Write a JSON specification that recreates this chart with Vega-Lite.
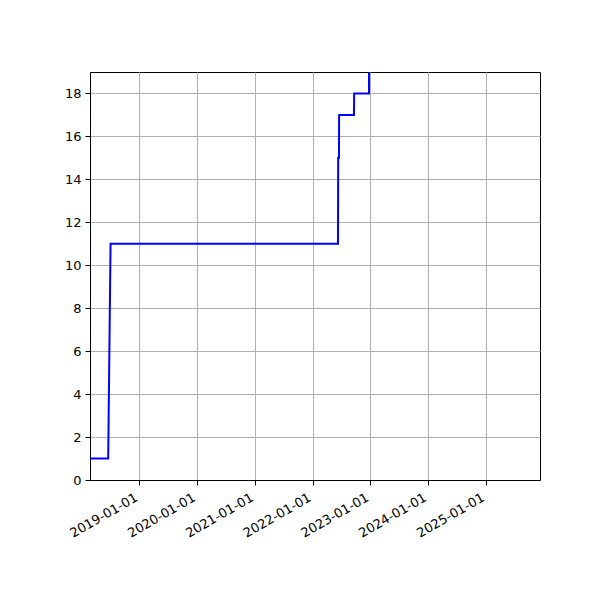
{
  "$schema": "https://vega.github.io/schema/vega-lite/v6.json",
  "description": "Step-like cumulative count over time",
  "autosize": {"type": "none"},
  "padding": {"left": 90, "top": 72, "right": 60, "bottom": 120},
  "width": 450,
  "height": 408,
  "background": "white",
  "view": {"stroke": "black", "strokeWidth": 1},
  "config": {
    "font": "DejaVu Sans",
    "axis": {
      "labelFont": "DejaVu Sans",
      "labelFontSize": 13,
      "labelColor": "black",
      "domainColor": "black",
      "tickColor": "black",
      "tickSize": 5,
      "labelPadding": 4,
      "gridColor": "#b0b0b0",
      "gridWidth": 1,
      "labelOverlap": false,
      "labelFlush": false,
      "title": null
    }
  },
  "data": {
    "values": [
      {"date": "2018-02-24", "value": 1},
      {"date": "2018-06-19", "value": 1},
      {"date": "2018-07-04", "value": 11},
      {"date": "2022-06-11", "value": 11},
      {"date": "2022-06-12", "value": 15},
      {"date": "2022-06-17", "value": 15},
      {"date": "2022-06-18", "value": 17},
      {"date": "2022-09-20", "value": 17},
      {"date": "2022-09-21", "value": 18},
      {"date": "2022-12-24", "value": 18},
      {"date": "2022-12-25", "value": 25}
    ]
  },
  "mark": {"type": "line", "color": "blue", "strokeWidth": 2, "clip": true},
  "encoding": {
    "x": {
      "field": "date",
      "type": "temporal",
      "scale": {
        "type": "utc",
        "domain": [
          {"year": 2018, "month": 2, "date": 24, "utc": true},
          {"year": 2025, "month": 12, "date": 9, "utc": true}
        ]
      },
      "axis": {
        "values": [
          {"year": 2019, "month": 1, "date": 1, "utc": true},
          {"year": 2020, "month": 1, "date": 1, "utc": true},
          {"year": 2021, "month": 1, "date": 1, "utc": true},
          {"year": 2022, "month": 1, "date": 1, "utc": true},
          {"year": 2023, "month": 1, "date": 1, "utc": true},
          {"year": 2024, "month": 1, "date": 1, "utc": true},
          {"year": 2025, "month": 1, "date": 1, "utc": true}
        ],
        "labelExpr": "utcFormat(datum.value, '%Y-%m-%d')",
        "labelAngle": -30,
        "labelAlign": "right",
        "labelBaseline": "top",
        "labelOffset": -6,
        "labelPadding": 6,
        "grid": true
      }
    },
    "y": {
      "field": "value",
      "type": "quantitative",
      "scale": {"domain": [0, 19], "nice": false, "zero": true},
      "axis": {"values": [0, 2, 4, 6, 8, 10, 12, 14, 16, 18], "grid": true}
    }
  }
}
